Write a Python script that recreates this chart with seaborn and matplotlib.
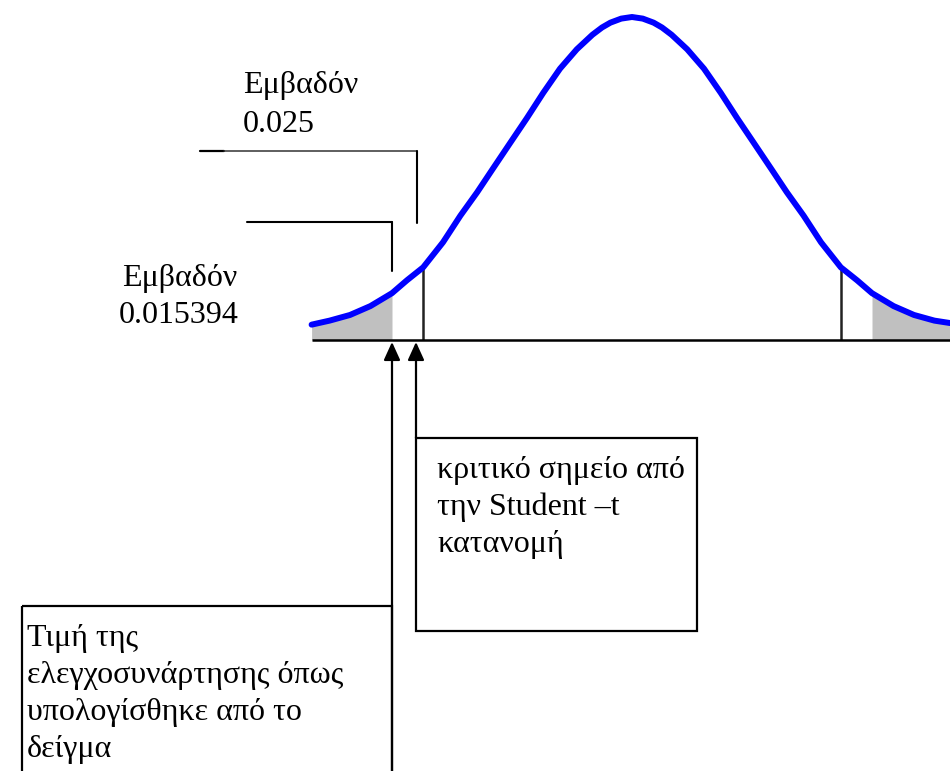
import matplotlib
matplotlib.use("Agg")
import matplotlib.pyplot as plt
from matplotlib.patches import Rectangle
import numpy as np
import pandas as pd
import seaborn as sns

# Sampled heights of the bell-shaped density (t on the horizontal axis)
t_values = [-2.67, -2.52, -2.35, -2.18, -2.00, -1.875, -1.74, -1.575, -1.43,
            -1.29, -1.16, -1.02, -0.875, -0.74, -0.60, -0.46, -0.33, -0.25,
            -0.18, -0.09, 0.00, 0.09,
            0.18, 0.25, 0.33, 0.46, 0.60, 0.74, 0.875, 1.02, 1.16, 1.29, 1.43,
            1.575, 1.74, 1.875, 2.00, 2.18, 2.35, 2.52, 2.65]
density = [0.019, 0.024, 0.031, 0.042, 0.058, 0.074, 0.090, 0.121, 0.154,
           0.183, 0.212, 0.243, 0.275, 0.306, 0.336, 0.360, 0.378, 0.387,
           0.393, 0.398, 0.400, 0.398,
           0.393, 0.387, 0.378, 0.360, 0.336, 0.306, 0.275, 0.243, 0.212,
           0.183, 0.154, 0.121, 0.090, 0.074, 0.058, 0.042, 0.031, 0.024,
           0.021]

t_critical = 1.74      # critical point of the Student-t distribution
t_statistic = -2.00    # value of the test statistic from the sample

area_critical = "0.025"
area_statistic = "0.015394"

label_critical = ["κριτικό σημείο από", "την Student \u2013t", "κατανομή"]
label_statistic = ["Τιμή της", "ελεγχοσυνάρτησης όπως",
                   "υπολογίσθηκε από το", "δείγμα"]

sns.set_theme(style="white")
plt.rcParams["font.family"] = ["Liberation Serif", "DejaVu Serif"]
plt.rcParams["text.color"] = "black"

df = pd.DataFrame({"t": t_values, "density": density})

W, H = 950, 771
fig = plt.figure(figsize=(W / 100, H / 100), dpi=100)
fig.patch.set_facecolor("white")

# Curve panel: 120 px per t unit, zero density at pixel row 340
px_t, px_d = 120.0, 807.5
x0, x1 = -2.7, 2.7
y0, y1 = -0.01, 0.42
left_px = 632 - (0 - x0) * px_t
bottom_px = 340 + (0 - y0) * px_d
ax = fig.add_axes([left_px / W, (H - bottom_px) / H,
                   (x1 - x0) * px_t / W, (y1 - y0) * px_d / H])
ax.set_xlim(x0, x1)
ax.set_ylim(y0, y1)
ax.axis("off")

lower = df[df["t"] <= t_statistic + 1e-9]
upper = df[df["t"] >= -t_statistic - 1e-9]
ax.fill_between(lower["t"], 0, lower["density"], color="#c0c0c0", lw=0, zorder=1)
ax.fill_between(upper["t"], 0, upper["density"], color="#c0c0c0", lw=0, zorder=1)

for tc in (-t_critical, t_critical):
    h = df.loc[np.isclose(df["t"], tc), "density"].iloc[0]
    ax.vlines(tc, 0, h, color="#222222", lw=1.8, zorder=2)

sns.lineplot(data=df, x="t", y="density", sort=False, ax=ax, color="#0000ff",
             lw=4.3, solid_joinstyle="round", solid_capstyle="round", zorder=3)
ax.hlines(0, df["t"].min(), df["t"].max(), color="black", lw=1.8, zorder=4)
ax.set_xlabel("")
ax.set_ylabel("")

# Annotation layer in pixel coordinates
ov = fig.add_axes([0, 0, 1, 1])
ov.set_xlim(0, W)
ov.set_ylim(H, 0)
ov.axis("off")
ov.patch.set_alpha(0)

fs = 23
txt = dict(fontsize=fs, va="baseline", ha="left", color="black")
ov.text(243, 93, "Εμβαδόν", **txt)
ov.text(243, 132, area_critical, **txt)
ov.text(122, 286, "Εμβαδόν", **txt)
ov.text(119, 323, area_statistic, **txt)

# leader lines to the two areas
ov.plot([200, 224], [151, 151], color="black", lw=1.6)
ov.plot([224, 416.5], [151, 151], color="#333333", lw=1.1)
ov.plot([416.5, 416.5], [151, 223], color="black", lw=1.5)
ov.plot([247, 392], [222, 222], color="black", lw=1.5)
ov.plot([392, 392], [222, 271], color="black", lw=1.5)

arrow = dict(arrowstyle="-|>,head_length=1.1,head_width=0.5", color="black",
             lw=1.6, shrinkA=0, shrinkB=0, mutation_scale=10)
ov.annotate("", xy=(392, 342), xytext=(392, H + 5), arrowprops=arrow)
ov.annotate("", xy=(416, 342), xytext=(416, 438), arrowprops=arrow)

ov.add_patch(Rectangle((416, 438), 281, 193, fill=False, ec="black", lw=1.6))
ov.add_patch(Rectangle((22, 606), 370, 200, fill=False, ec="black", lw=1.6))

for i, line in enumerate(label_critical):
    ov.text(437, 478 + 37 * i, line, **txt)
for i, line in enumerate(label_statistic):
    ov.text(27, 646 + 37 * i, line, **txt)

fig.savefig("out.png", dpi=100, facecolor="white")
